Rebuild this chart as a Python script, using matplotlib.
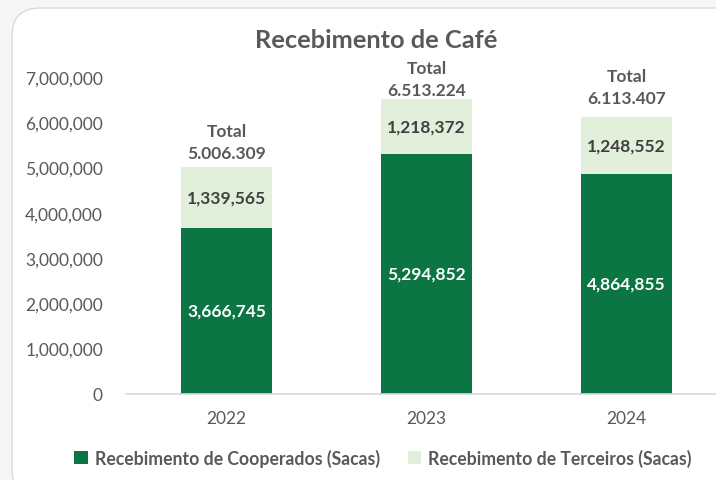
import numpy as np
import matplotlib.pyplot as plt
from matplotlib.patches import FancyBboxPatch, Patch

# dados de recebimento (sacas)
anos = ['2022', '2023', '2024']
cooperados = [3666745, 5294852, 4864855]
terceiros = [1339565, 1218372, 1248552]
totais = ['5.006.309', '6.513.224', '6.113.407']

VERDE = '#0C7544'
VERDE_CLARO = '#E2EFDA'
CINZA = '#595959'

plt.rcParams['font.family'] = ['Lato', 'DejaVu Sans']

W, H = 716, 481
fig = plt.figure(figsize=(W / 100, H / 100), dpi=100)
fig.patch.set_facecolor('#F6F6F6')

# fundo branco com canto arredondado (coordenadas em pixels)
bg = fig.add_axes([0, 0, 1, 1])
bg.set_xlim(0, W)
bg.set_ylim(H, 0)
bg.axis('off')
bg.add_patch(FancyBboxPatch((12, 9), 760, 490, boxstyle='round,pad=0,rounding_size=28',
                            facecolor='white', edgecolor='#D9D9D9', linewidth=1.0))

ax = fig.add_axes([126.5 / W, 86.3 / H, 600 / W, 316.6 / H])
ax.patch.set_alpha(0)

x = np.arange(len(anos))
larg = 0.455
coop = np.array(cooperados)
terc = np.array(terceiros)

b1 = ax.bar(x, coop, larg, color=VERDE, zorder=2)
b2 = ax.bar(x, terc, larg, bottom=coop, color=VERDE_CLARO, zorder=2)

# distância (px) entre o topo da barra e o valor total, caixas posicionadas à mão
folga = [14, 9.5, 19]
for i in range(len(anos)):
    ax.text(x[i], coop[i] / 2, f'{coop[i]:,}', ha='center', va='center',
            color='white', fontsize=12.5, fontweight='bold')
    ax.text(x[i], coop[i] + terc[i] / 2, f'{terc[i]:,}', ha='center', va='center',
            color='#404040', fontsize=12.5, fontweight='bold')
    topo = coop[i] + terc[i]
    ax.annotate(totais[i], (x[i], topo), xytext=(0, folga[i] * 0.72),
                textcoords='offset points', ha='center', va='center',
                color=CINZA, fontsize=12.5, fontweight='bold')
    ax.annotate('Total', (x[i], topo), xytext=(0, (folga[i] + 22) * 0.72),
                textcoords='offset points', ha='center', va='center',
                color=CINZA, fontsize=12.5, fontweight='bold')

ax.set_xlim(-0.5, 2.5)
ax.set_ylim(0, 7000000)
ax.set_yticks(np.arange(0, 7000001, 1000000))
ax.set_yticklabels([f'{v:,}' for v in range(0, 7000001, 1000000)])
ax.set_xticks(x)
ax.set_xticklabels(anos)
ax.tick_params(axis='both', length=0, labelsize=12.5, labelcolor=CINZA)
ax.tick_params(axis='y', pad=17)
ax.tick_params(axis='x', pad=12)
for s in ['top', 'right', 'left']:
    ax.spines[s].set_visible(False)
ax.spines['bottom'].set_color('#D9D9D9')
ax.spines['bottom'].set_linewidth(1.2)

fig.text(376 / W, 1 - 40 / H, 'Recebimento de Café', ha='center', va='center',
         fontsize=18.3, fontweight='bold', color=CINZA)

handles = [Patch(facecolor=VERDE), Patch(facecolor=VERDE_CLARO)]
leg = fig.legend(handles, ['Recebimento de Cooperados (Sacas)', 'Recebimento de Terceiros (Sacas)'],
                 loc='center', bbox_to_anchor=(383 / W, 1 - 459 / H), ncol=2, frameon=False,
                 handlelength=0.75, handleheight=0.75, handletextpad=0.4, columnspacing=1.6,
                 prop={'size': 12.7, 'weight': 'bold'})
for t in leg.get_texts():
    t.set_color(CINZA)

fig.savefig('out.png', dpi=100)
